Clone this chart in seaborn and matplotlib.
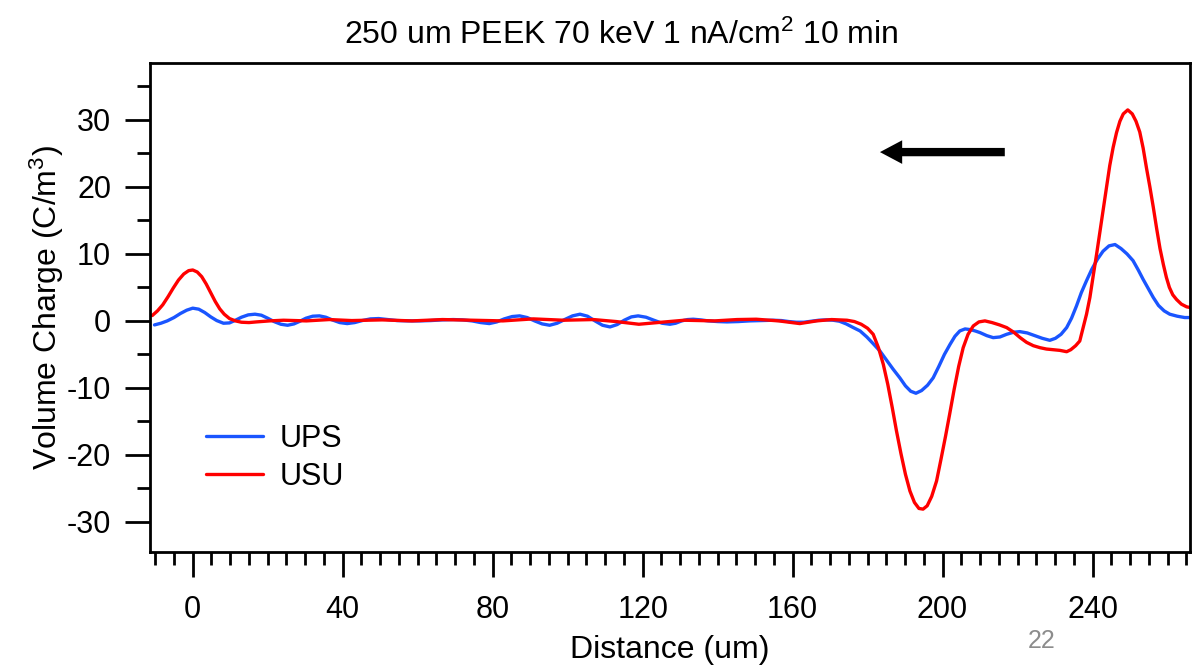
import numpy as np
import pandas as pd
import matplotlib
matplotlib.use("Agg")
import matplotlib.pyplot as plt
import seaborn as sns

# ---- data ----
ups_x = [-10.2, -8.5, -6.8, -5, -3.3, -1.6, 0, 1.6, 3.2, 4.8, 6.4, 8.2, 9.8, 11.4, 13, 14.8,
         16.6, 18.3, 20, 21.7, 23.5, 25.3, 27, 28.6, 30.2, 32, 33.8, 35.5, 37.2, 39.2, 41.2,
         43.2, 45.2, 47.4, 49.6, 52, 54.5, 57.5, 60.5, 63.5, 66.5, 69.5, 72, 74.5, 76.8, 79.1,
         81.1, 83.1, 85.2, 87.2, 89.2, 91.2, 93.2, 95.2, 97.2, 99.2, 101.3, 103.3, 105.3, 107.3,
         109.3, 111.3, 113.2, 115.1, 117, 118.8, 120.9, 123, 125.2, 127.3, 128.8, 130.4, 132,
         133.5, 135.5, 137.5, 140, 142.5, 145.5, 148.5, 151.5, 154.8, 157, 159, 161, 163, 165,
         167, 169, 170.8, 172.5, 174.3, 176.2, 178, 179.8, 181.5, 183.3, 185, 186.8, 188.6,
         190.1, 191.5, 192.9, 194.4, 196, 197.5, 199, 200.5, 202, 203.3, 204.6, 206, 207.4,
         208.7, 210, 211.8, 213.5, 215.3, 217.1, 218.9, 220.6, 222.6, 224.6, 226.6, 228.6,
         230.1, 231.6, 233.1, 234.4, 235.7, 237, 238.4, 239.8, 241.3, 242.8, 244.4, 246, 247.6,
         249.2, 250.8, 252.2, 253.5, 254.9, 256.2, 257.6, 259.1, 260.6, 262.6, 264.6, 266]
ups_y = [-0.6, -0.35, 0.0, 0.5, 1.1, 1.6, 1.9, 1.75, 1.25, 0.6, 0.05, -0.35, -0.3, 0.1, 0.55,
         0.9, 1.0, 0.85, 0.4, -0.1, -0.5, -0.65, -0.45, -0.05, 0.4, 0.7, 0.75, 0.55, 0.15,
         -0.25, -0.4, -0.25, 0.05, 0.3, 0.35, 0.2, 0.05, 0.0, 0.0, 0.05, 0.15, 0.2, 0.15, 0.0,
         -0.25, -0.4, -0.15, 0.3, 0.65, 0.75, 0.5, 0.0, -0.45, -0.65, -0.35, 0.2, 0.75, 1.0,
         0.7, 0.0, -0.65, -0.9, -0.55, 0.1, 0.6, 0.75, 0.55, 0.1, -0.35, -0.5, -0.35, 0.0,
         0.2, 0.25, 0.15, 0.0, -0.1, -0.15, -0.1, 0.0, 0.05, 0.1, 0.05, -0.1, -0.2, -0.2,
         -0.05, 0.1, 0.15, 0.1, -0.05, -0.45, -1.0, -1.5, -2.4, -3.4, -4.5, -5.8, -7.2, -8.5,
         -9.7, -10.5, -10.8, -10.4, -9.6, -8.5, -6.8, -5.0, -3.5, -2.3, -1.5, -1.2, -1.3, -1.5,
         -1.75, -2.2, -2.5, -2.4, -2.0, -1.7, -1.6, -1.8, -2.2, -2.6, -2.9, -2.6, -2.0, -1.0,
         0.4, 2.2, 4.2, 6.0, 7.7, 9.2, 10.4, 11.2, 11.4, 10.8, 10.0, 9.0, 7.6, 6.2, 4.8, 3.5,
         2.3, 1.5, 1.0, 0.7, 0.5, 0.5]

usu_x = [-10.8, -9.4, -8, -6.6, -5.2, -3.8, -2.4, -1.1, 0, 1.2, 2.4, 3.6, 4.8, 6, 7.2, 8.4,
         9.8, 11.4, 13, 15, 17, 20.5, 24.2, 30.3, 36.4, 42.4, 50.5, 58.5, 66.6, 74.7, 82.7,
         90.8, 98.9, 106.9, 113, 119, 125, 131.1, 139.2, 145.2, 150.3, 156.3, 161.9, 166.4,
         170.4, 174.5, 176.5, 178.3, 180, 181.5, 182.9, 184.2, 185.4, 186.6, 187.7, 188.9,
         190.1, 191.3, 192.5, 193.7, 194.8, 195.9, 197.1, 198.4, 199.6, 200.8, 201.9, 203.1,
         204.3, 205.5, 206.8, 208.2, 209.7, 211.3, 213.2, 215.2, 217.1, 219, 220.7, 222.4,
         224.2, 226, 227.7, 229.5, 231.3, 233.1, 234.2, 235.5, 236.6, 237.5, 238.4, 239.3,
         240.2, 241.1, 242, 242.9, 243.8, 244.6, 245.5, 246.4, 247.3, 248.2, 249.4, 250.6,
         251.6, 252.6, 253.5, 254.4, 255.3, 256.2, 257.1, 258, 258.9, 259.7, 260.5, 261.4,
         262.4, 263.7, 265.1, 266]
usu_y = [0.8, 1.5, 2.4, 3.6, 4.9, 6.1, 7.0, 7.5, 7.6, 7.3, 6.6, 5.5, 4.2, 2.9, 1.8, 1.0,
         0.35, 0.0, -0.2, -0.25, -0.15, 0.0, 0.1, 0.0, 0.2, 0.05, 0.15, 0.0, 0.2, 0.1, 0.0,
         0.3, 0.1, 0.2, -0.1, -0.5, -0.2, 0.1, 0.0, 0.2, 0.25, 0.0, -0.4, 0.0, 0.2, 0.1, -0.1,
         -0.5, -1.1, -2.0, -4.0, -6.5, -9.5, -13.0, -16.4, -19.8, -22.9, -25.4, -27.1, -28.0,
         -28.1, -27.6, -26.2, -23.9, -20.6, -17.2, -13.9, -10.2, -6.8, -4.0, -2.0, -0.75,
         -0.15, 0.0, -0.25, -0.6, -1.0, -1.7, -2.5, -3.2, -3.7, -4.0, -4.2, -4.3, -4.4, -4.6,
         -4.3, -3.7, -3.0, -1.0, 1.0, 3.5, 6.8, 10.0, 13.4, 16.8, 20.2, 23.2, 25.9, 28.1, 29.8,
         30.9, 31.5, 30.9, 29.8, 28.2, 25.8, 22.8, 20.0, 17.0, 13.8, 10.8, 8.4, 6.5, 5.0, 3.9,
         3.2, 2.5, 2.1, 2.0]

series_names = ["UPS", "USU"]
series_colors = ["#1a55ff", "#ff0000"]
x_major_ticks = [0, 40, 80, 120, 160, 200, 240]
y_major_ticks = [-30, -20, -10, 0, 10, 20, 30]
title_text = "250 um PEEK 70 keV 1 nA/cm$^2$ 10 min"
xlabel_text = "Distance (um)"
ylabel_text = "Volume Charge (C/m$^3$)"
page_number = "22"

df = pd.concat([
    pd.DataFrame({"x": ups_x, "y": ups_y, "series": series_names[0]}),
    pd.DataFrame({"x": usu_x, "y": usu_y, "series": series_names[1]}),
], ignore_index=True)

sns.set_style("ticks")
plt.rcParams["font.family"] = ["Liberation Sans", "DejaVu Sans"]
plt.rcParams["mathtext.fontset"] = "custom"
plt.rcParams["mathtext.rm"] = "Liberation Sans"
plt.rcParams["mathtext.it"] = "Liberation Sans"
plt.rcParams["axes.unicode_minus"] = False
plt.rcParams["text.color"] = "black"
plt.rcParams["axes.labelcolor"] = "black"
plt.rcParams["xtick.color"] = "black"
plt.rcParams["ytick.color"] = "black"

fig = plt.figure(figsize=(12.04, 6.68), dpi=100)
ax = fig.add_axes([150/1204, 1-552/668, (1190-150)/1204, (552-63)/668])

sns.lineplot(data=df, x="x", y="y", hue="series", palette=dict(zip(series_names, series_colors)),
             linewidth=2.4, ax=ax, sort=False, estimator=None)
for ln in ax.get_lines():
    ln.set_solid_joinstyle("round")

ax.set_xlim(-11.4, 266)
ax.set_ylim(-34.5, 38.5)
ax.set_xticks(x_major_ticks)
ax.set_xticks(np.arange(-10, 266, 5), minor=True)
ax.set_yticks(y_major_ticks)
ax.set_yticks(np.arange(-30, 36, 5), minor=True)
ax.tick_params(which="major", direction="out", length=18, width=2, labelsize=22, color="black")
ax.tick_params(which="minor", direction="out", length=9.5, width=2, color="black")
ax.tick_params(axis="x", which="major", pad=13)
ax.tick_params(axis="y", which="major", pad=10)
for s in ax.spines.values():
    s.set_linewidth(2)
    s.set_color("black")

ax.set_xlabel(xlabel_text, fontsize=23, va="center")
ax.set_ylabel(ylabel_text, fontsize=23, va="center")
ax.xaxis.set_label_coords(0.5, -(650-552)/489)
ax.yaxis.set_label_coords((47-150)/1040, 0.5)

fig.text(621/1204, 1-35/668, title_text, ha="center", va="center", fontsize=23)
fig.text(1042/1204, 1-641/668, page_number, ha="center", va="center", fontsize=18, color="#8c8c8c")

ax.annotate("", xy=(183.3, 25.2), xytext=(216.6, 25.2),
            arrowprops=dict(arrowstyle="simple,head_length=0.8,head_width=0.85,tail_width=0.3",
                            mutation_scale=20, color="black", lw=0, shrinkA=0, shrinkB=0))

leg = ax.legend(loc="center left", bbox_to_anchor=((206-150)/1040, (552-458)/489),
                frameon=False, fontsize=22, handlelength=1.86, handletextpad=0.55,
                labelspacing=0.25, borderpad=0, borderaxespad=0)
for line in leg.get_lines():
    line.set_linewidth(2.4)

fig.savefig("out.png", dpi=100)
